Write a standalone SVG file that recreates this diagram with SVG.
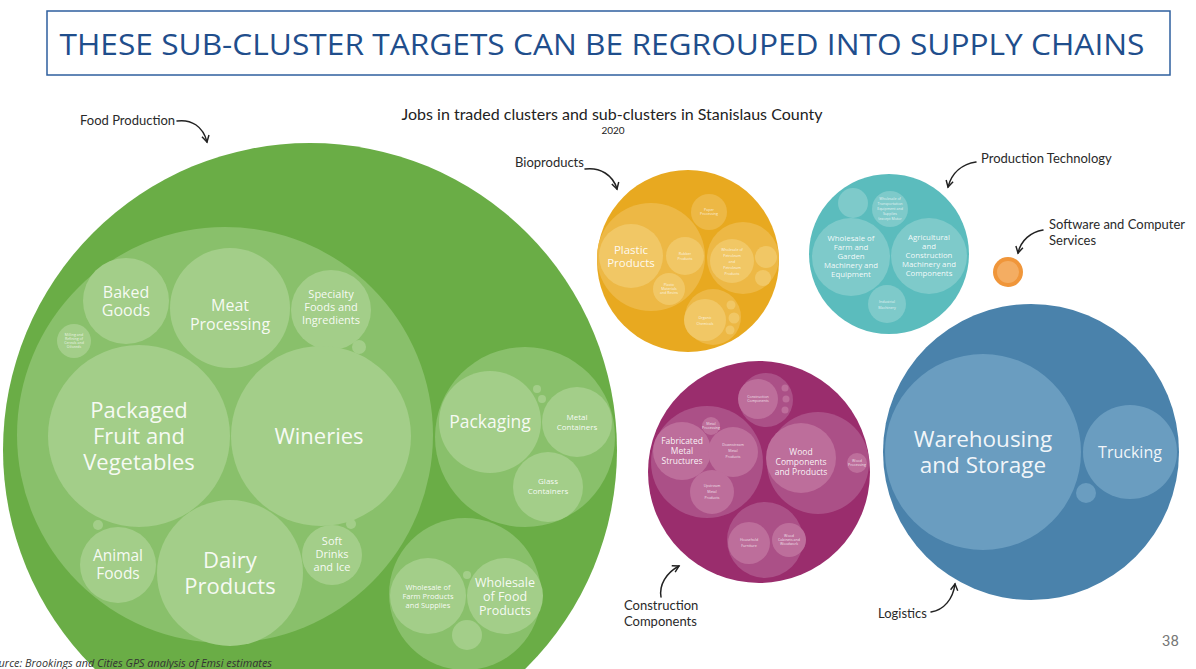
<svg xmlns="http://www.w3.org/2000/svg" width="1196" height="669" viewBox="0 0 1196 669">
<style>
.ann{font-family:Lato,"Open Sans",sans-serif;font-size:13px;fill:#2a2a2a}
.lbl{font-family:"Open Sans","Noto Sans",sans-serif;fill:#ffffff;fill-opacity:0.92;text-anchor:middle}
.tiny{font-family:"Open Sans","Noto Sans",sans-serif;fill:#ffffff;fill-opacity:0.8;text-anchor:middle;font-size:3.6px}
.conn{fill:none;stroke:#222;stroke-width:1.5;stroke-linecap:round}
.gF0{fill:#6aad46}.gF1{fill:#89c06b}.gF2{fill:#a3ce89}
.oB0{fill:#e8a920}.oB1{fill:#edb845}.oB2{fill:#f1c765}
.tP0{fill:#5bbcbd}.tP1{fill:#7ecaca}
.sW0{fill:#f0963a}.sW1{fill:#f4ad62}
.mC0{fill:#9a2d6d}.mC1{fill:#ab5087}.mC2{fill:#bd6e9b}
.bL0{fill:#4a82ab}.bL1{fill:#6a9dc0}
</style>
<defs>
<marker id="ah" viewBox="0 0 10 10" refX="8" refY="5" markerWidth="9" markerHeight="9" markerUnits="userSpaceOnUse" orient="auto">
<path d="M1,1 L8,5 L1,9" fill="none" stroke="#222" stroke-width="1.6"/>
</marker>
</defs>
<rect width="1196" height="669" fill="#ffffff"/>

<g id="title">
<rect x="47" y="11" width="1123" height="64" fill="none" stroke="#2e5f9e" stroke-width="1.5"/>
<text x="602" y="55" font-family="'Open Sans','Noto Sans',sans-serif" font-size="29" fill="#1f4e8c" text-anchor="middle" textLength="1085" lengthAdjust="spacingAndGlyphs">THESE SUB-CLUSTER TARGETS CAN BE REGROUPED INTO SUPPLY CHAINS</text>
</g>

<g id="chart-title">
<text x="612" y="120" font-family="Lato,'Open Sans',sans-serif" font-size="16" fill="#222" text-anchor="middle">Jobs in traded clusters and sub-clusters in Stanislaus County</text>
<text x="613" y="134" font-family="Lato,'Open Sans',sans-serif" font-size="10" fill="#222" text-anchor="middle">2020</text>
</g>

<g id="food-production">
<circle class="gF0" cx="310" cy="450" r="307"/>
<circle class="gF1" cx="225" cy="435" r="208"/>
<circle class="gF2" cx="126" cy="301" r="43"/>
<text class="lbl" font-size="16"><tspan x="126" y="298">Baked</tspan><tspan x="126" y="316">Goods</tspan></text>
<circle class="gF2" cx="230" cy="308" r="60"/>
<text class="lbl" font-size="16"><tspan x="230" y="311">Meat</tspan><tspan x="230" y="330">Processing</tspan></text>
<circle class="gF2" cx="331" cy="310" r="40"/>
<text class="lbl" font-size="11"><tspan x="331" y="298">Specialty</tspan><tspan x="331" y="311">Foods and</tspan><tspan x="331" y="324">Ingredients</tspan></text>
<circle class="gF2" cx="74" cy="341" r="17"/>
<text class="tiny"><tspan x="74" y="336">Milling and</tspan><tspan x="74" y="340">Refining of</tspan><tspan x="74" y="344">Cereals and</tspan><tspan x="74" y="348">Oilseeds</tspan></text>
<circle class="gF2" cx="359" cy="347" r="7"/>
<circle class="gF2" cx="139" cy="436" r="91"/>
<text class="lbl" font-size="22"><tspan x="139" y="418">Packaged</tspan><tspan x="139" y="444">Fruit and</tspan><tspan x="139" y="470">Vegetables</tspan></text>
<circle class="gF2" cx="321" cy="436" r="90"/>
<text class="lbl" font-size="22" x="319" y="444">Wineries</text>
<circle class="gF2" cx="230" cy="573" r="73"/>
<text class="lbl" font-size="22"><tspan x="230" y="568">Dairy</tspan><tspan x="230" y="594">Products</tspan></text>
<circle class="gF2" cx="118" cy="565" r="38"/>
<text class="lbl" font-size="15.5"><tspan x="118" y="561">Animal</tspan><tspan x="118" y="579">Foods</tspan></text>
<circle class="gF2" cx="332" cy="555" r="30"/>
<text class="lbl" font-size="11"><tspan x="332" y="545">Soft</tspan><tspan x="332" y="558">Drinks</tspan><tspan x="332" y="571">and Ice</tspan></text>
<circle class="gF2" cx="98" cy="525" r="5"/>
<circle class="gF2" cx="351" cy="524" r="5"/>

<circle class="gF1" cx="525" cy="437" r="90"/>
<circle class="gF2" cx="490" cy="422" r="51"/>
<text class="lbl" font-size="17.5" x="490" y="428">Packaging</text>
<circle class="gF2" cx="577" cy="422" r="35"/>
<text class="lbl" font-size="8"><tspan x="577" y="420">Metal</tspan><tspan x="577" y="430">Containers</tspan></text>
<circle class="gF2" cx="548" cy="487" r="35"/>
<text class="lbl" font-size="8"><tspan x="548" y="484">Glass</tspan><tspan x="548" y="494">Containers</tspan></text>
<circle class="gF2" cx="537" cy="389" r="4"/>
<circle class="gF2" cx="542" cy="399" r="4"/>

<circle class="gF1" cx="465" cy="594" r="76"/>
<circle class="gF2" cx="428" cy="596" r="38"/>
<text class="lbl" font-size="7.5"><tspan x="428" y="590">Wholesale of</tspan><tspan x="428" y="599">Farm Products</tspan><tspan x="428" y="608">and Supplies</tspan></text>
<circle class="gF2" cx="505" cy="596" r="38"/>
<text class="lbl" font-size="12.5"><tspan x="505" y="587">Wholesale</tspan><tspan x="505" y="601">of Food</tspan><tspan x="505" y="615">Products</tspan></text>
<circle class="gF2" cx="467" cy="575" r="4"/>
<circle class="gF2" cx="467" cy="635" r="15"/>
</g>

<g id="bioproducts">
<circle class="oB0" cx="688" cy="261" r="91"/>
<circle class="oB1" cx="651" cy="257" r="54"/>
<circle class="oB2" cx="631" cy="256" r="32"/>
<text class="lbl" font-size="11.5"><tspan x="631" y="254">Plastic</tspan><tspan x="631" y="267">Products</tspan></text>
<circle class="oB2" cx="685" cy="256" r="19"/>
<text class="tiny" font-size="4.5"><tspan x="685" y="255">Rubber</tspan><tspan x="685" y="260">Products</tspan></text>
<circle class="oB2" cx="669" cy="289" r="16"/>
<text class="tiny"><tspan x="669" y="286">Plastic</tspan><tspan x="669" y="290">Materials</tspan><tspan x="669" y="294">and Resins</tspan></text>
<circle class="oB1" cx="709" cy="212" r="18"/>
<text class="tiny"><tspan x="709" y="211">Paper</tspan><tspan x="709" y="215">Processing</tspan></text>
<circle class="oB1" cx="743" cy="258" r="36"/>
<circle class="oB2" cx="732" cy="261" r="22"/>
<text class="tiny" font-size="4.5"><tspan x="732" y="251">Wholesale of</tspan><tspan x="732" y="257">Petroleum</tspan><tspan x="732" y="263">and</tspan><tspan x="732" y="269">Petroleum</tspan><tspan x="732" y="275">Products</tspan></text>
<circle class="oB2" cx="766" cy="257" r="11"/>
<circle class="oB2" cx="763" cy="278" r="8"/>
<circle class="oB1" cx="713" cy="317" r="28"/>
<circle class="oB2" cx="705" cy="320" r="21"/>
<text class="tiny" font-size="4.5"><tspan x="705" y="319">Organic</tspan><tspan x="705" y="325">Chemicals</tspan></text>
<circle class="oB2" cx="731" cy="305" r="4.5"/>
<circle class="oB2" cx="734" cy="318" r="5.5"/>
<circle class="oB2" cx="730" cy="330" r="4.5"/>
</g>

<g id="production-technology">
<circle class="tP0" cx="889" cy="254" r="80"/>
<circle class="tP1" cx="853" cy="203" r="15"/>
<circle class="tP1" cx="890" cy="209" r="18"/>
<text class="tiny"><tspan x="890" y="200">Wholesale of</tspan><tspan x="890" y="205">Transportation</tspan><tspan x="890" y="210">Equipment and</tspan><tspan x="890" y="215">Supplies</tspan><tspan x="890" y="220">(except Motor</tspan></text>
<circle class="tP1" cx="851" cy="257" r="39"/>
<text class="lbl" font-size="7.8"><tspan x="851" y="241">Wholesale of</tspan><tspan x="851" y="250">Farm and</tspan><tspan x="851" y="259">Garden</tspan><tspan x="851" y="268">Machinery and</tspan><tspan x="851" y="277">Equipment</tspan></text>
<circle class="tP1" cx="929" cy="256" r="38"/>
<text class="lbl" font-size="7.8"><tspan x="929" y="240">Agricultural</tspan><tspan x="929" y="249">and</tspan><tspan x="929" y="258">Construction</tspan><tspan x="929" y="267">Machinery and</tspan><tspan x="929" y="276">Components</tspan></text>
<circle class="tP1" cx="887" cy="304" r="19"/>
<text class="tiny" font-size="4.5"><tspan x="887" y="303">Industrial</tspan><tspan x="887" y="309">Machinery</tspan></text>
</g>

<g id="software-services">
<circle class="sW0" cx="1008" cy="272" r="15"/>
<circle class="sW1" cx="1008" cy="272" r="11"/>
</g>

<g id="construction-components">
<circle class="mC0" cx="759" cy="472" r="111"/>
<circle class="mC1" cx="766" cy="400" r="27"/>
<circle class="mC2" cx="758" cy="399" r="20"/>
<text class="tiny"><tspan x="758" y="398">Construction</tspan><tspan x="758" y="402">Components</tspan></text>
<circle class="mC2" cx="785" cy="388" r="3.5"/>
<circle class="mC2" cx="786" cy="399" r="3.5"/>
<circle class="mC2" cx="785" cy="410" r="3.5"/>
<circle class="mC1" cx="707" cy="462" r="56"/>
<circle class="mC2" cx="711" cy="426" r="9"/>
<text class="tiny" font-size="2.8"><tspan x="711" y="425">Metal</tspan><tspan x="711" y="428.5">Processing</tspan></text>
<circle class="mC2" cx="682" cy="451" r="29"/>
<text class="lbl" font-size="8.5"><tspan x="682" y="444">Fabricated</tspan><tspan x="682" y="454">Metal</tspan><tspan x="682" y="464">Structures</tspan></text>
<circle class="mC2" cx="733" cy="452" r="25"/>
<text class="tiny" font-size="5"><tspan x="733" y="446">Downstream</tspan><tspan x="733" y="452">Metal</tspan><tspan x="733" y="458">Products</tspan></text>
<circle class="mC2" cx="712" cy="492" r="22"/>
<text class="tiny" font-size="5"><tspan x="712" y="487">Upstream</tspan><tspan x="712" y="493">Metal</tspan><tspan x="712" y="499">Products</tspan></text>
<circle class="mC1" cx="818" cy="463" r="51"/>
<circle class="mC2" cx="801" cy="458" r="35"/>
<text class="lbl" font-size="8.5"><tspan x="801" y="455">Wood</tspan><tspan x="801" y="465">Components</tspan><tspan x="801" y="475">and Products</tspan></text>
<circle class="mC2" cx="857" cy="463" r="10"/>
<text class="tiny" font-size="2.8"><tspan x="857" y="462">Wood</tspan><tspan x="857" y="465.5">Processing</tspan></text>
<circle class="mC1" cx="765" cy="540" r="38"/>
<circle class="mC2" cx="749" cy="543" r="21"/>
<text class="tiny" font-size="5"><tspan x="749" y="541">Household</tspan><tspan x="749" y="547">Furniture</tspan></text>
<circle class="mC2" cx="789" cy="540" r="17"/>
<text class="tiny"><tspan x="789" y="537">Wood</tspan><tspan x="789" y="541">Cabinets and</tspan><tspan x="789" y="545">Woodwork</tspan></text>
</g>

<g id="logistics">
<circle class="bL0" cx="1031" cy="452" r="148"/>
<circle class="bL1" cx="983" cy="452" r="98"/>
<text class="lbl" font-size="22.5"><tspan x="983" y="447">Warehousing</tspan><tspan x="983" y="473">and Storage</tspan></text>
<circle class="bL1" cx="1130" cy="452" r="47"/>
<text class="lbl" font-size="16" x="1130" y="458">Trucking</text>
<circle class="bL1" cx="1086" cy="493" r="10"/>
</g>

<g id="source">
<text x="-13" y="667" font-family="'Open Sans','Noto Sans',sans-serif" font-style="italic" font-size="11" fill="#333" textLength="285" lengthAdjust="spacingAndGlyphs">Source: Brookings and Cities GPS analysis of Emsi estimates</text>
</g>

<g id="annotations">
<text class="ann" x="80" y="125">Food Production</text>
<text class="ann" x="515" y="167">Bioproducts</text>
<text class="ann" x="981" y="163">Production Technology</text>
<text class="ann"><tspan x="1049" y="229">Software and Computer</tspan><tspan x="1049" y="245">Services</tspan></text>
<text class="ann"><tspan x="624" y="610">Construction</tspan><tspan x="624" y="626">Components</tspan></text>
<text class="ann" x="878" y="618">Logistics</text>
<text x="1162" y="646" font-family="Roboto,'Open Sans',sans-serif" font-size="15" fill="#777">38</text>
</g>

<g id="connectors">
<path class="conn" marker-end="url(#ah)" d="M177,121 C191,119 203,126 207,142"/>
<path class="conn" marker-end="url(#ah)" d="M585,169 C600,167 613,175 617,189"/>
<path class="conn" marker-end="url(#ah)" d="M976,162 C963,164 952,172 948,187"/>
<path class="conn" marker-end="url(#ah)" d="M1043,230 C1031,232 1021,240 1018,253"/>
<path class="conn" marker-end="url(#ah)" d="M661,597 C659,585 666,573 679,566"/>
<path class="conn" marker-end="url(#ah)" d="M931,612 C944,610 953,599 955,584"/>
</g>
</svg>
